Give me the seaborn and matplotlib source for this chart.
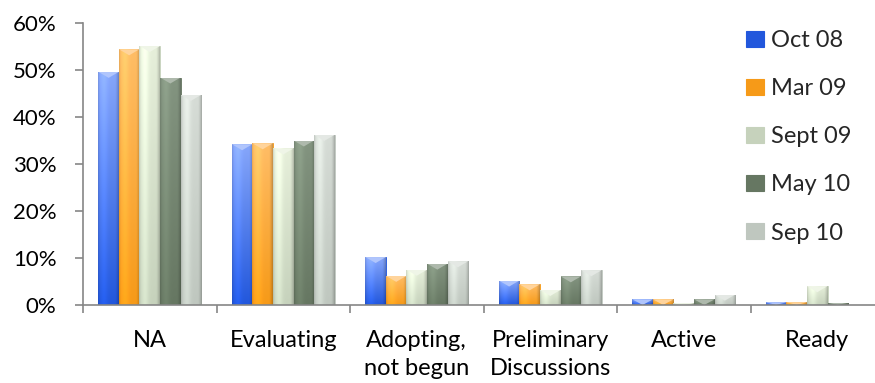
import numpy as np
import pandas as pd
import matplotlib
matplotlib.use("Agg")
import matplotlib.pyplot as plt
import matplotlib.patches as mpatches
from matplotlib.colors import to_rgb
import seaborn as sns

# Survey stage by wave (percent of respondents)
categories = ["NA", "Evaluating", "Adopting,\nnot begun", "Preliminary\nDiscussions", "Active", "Ready"]
waves = ["Oct 08", "Mar 09", "Sept 09", "May 10", "Sep 10"]
oct08 = [49.6, 34.2, 10.2, 5.2, 1.2, 0.6]
mar09 = [54.4, 34.4, 6.2, 4.4, 1.2, 0.6]
sept09 = [55.1, 33.3, 7.5, 3.2, 0.4, 4.0]
may10 = [48.4, 35.0, 8.8, 6.1, 1.2, 0.5]
sep10 = [44.7, 36.2, 9.3, 7.4, 2.2, 0.0]

series = [oct08, mar09, sept09, may10, sep10]
df = pd.DataFrame({
    "stage": np.tile(categories, len(waves)),
    "wave": np.repeat(waves, len(categories)),
    "pct": np.concatenate(series),
})

# (top colour, bottom colour) for each wave's bar shading
shades = {
    "Oct 08": ("#86a6fa", "#2257dc"),
    "Mar 09": ("#ffbd66", "#f69a18"),
    "Sept 09": ("#e6efda", "#c6d2bc"),
    "May 10": ("#839480", "#667762"),
    "Sep 10": ("#d6dcd6", "#bfc7bf"),
}
palette = {w: shades[w][1] for w in waves}

sns.set_theme(style="white")
plt.rcParams["font.family"] = ["Lato", "DejaVu Sans"]

fig = plt.figure(figsize=(8.75, 3.83), dpi=100)
ax = fig.add_axes([83 / 875, 78 / 383, 801 / 875, 282 / 383])

sns.barplot(data=df, x="stage", y="pct", hue="wave", hue_order=waves,
            order=categories, palette=palette, width=0.77, gap=0,
            saturation=1, legend=False, ax=ax, errorbar=None)


def shaded(top, bottom, ny=64, nx=32):
    t = np.linspace(0, 1, ny)[:, None, None]
    col = (1 - t) * np.array(to_rgb(top)) + t * np.array(to_rgb(bottom))
    xs = np.linspace(0, 1, nx)
    # rounded-column look: lit on the left, darker towards the right edge
    prof = 1.0 + 0.10 * np.exp(-((xs - 0.28) / 0.18) ** 2) - 0.22 * np.clip((xs - 0.82) / 0.18, 0, 1) ** 1.5 \
        - 0.10 * np.clip((0.08 - xs) / 0.08, 0, 1)
    img = col * prof[None, :, None]
    return np.clip(img, 0, 1)


def lighten(c, f):
    c = np.array(to_rgb(c))
    return tuple(c + (1 - c) * f)


ax.set_xlim(-0.5, 5.5)
ax.set_ylim(0, 60)
cap = 6 * 60 / 282  # bevel depth of 6 px in data units

for cont, w in zip(ax.containers, waves):
    top, bottom = shades[w]
    for p in cont.patches:
        x0, y0 = p.get_x(), p.get_y()
        bw, bh = p.get_width(), p.get_height()
        p.set_edgecolor(to_rgb(bottom))
        p.set_linewidth(0.6)
        if bh <= 0:
            continue
        z = p.get_zorder()
        im = ax.imshow(shaded(top, bottom), extent=[x0, x0 + bw, y0, y0 + bh],
                       origin="upper", aspect="auto", interpolation="bilinear",
                       zorder=z + 0.1)
        im.set_clip_path(p)
        # bevelled top: a lighter chevron under the upper edge
        d = min(cap, bh)
        yt = y0 + bh
        chevron = mpatches.Polygon(
            [(x0, yt), (x0 + bw, yt), (x0 + bw * 0.82, yt - d * 0.35),
             (x0 + bw * 0.5, yt - d), (x0 + bw * 0.18, yt - d * 0.35)],
            closed=True, facecolor=lighten(top, 0.35), edgecolor="none",
            zorder=z + 0.2)
        ax.add_patch(chevron)
        chevron.set_clip_path(p)

ax.set_xlim(-0.5, 5.5)
ax.set_ylim(0, 60)
ax.set_xlabel("")
ax.set_ylabel("")

axis_col = "#868686"
for s in ["top", "right"]:
    ax.spines[s].set_visible(False)
for s in ["left", "bottom"]:
    ax.spines[s].set_color(axis_col)
    ax.spines[s].set_linewidth(1.2)

ax.set_yticks(np.arange(0, 61, 10))
ax.set_yticklabels([f"{v}%" for v in range(0, 61, 10)])
ax.tick_params(axis="y", length=6, width=1.2, color=axis_col, pad=13,
               labelsize=16, labelcolor="black", left=True)

ax.set_xticks(range(len(categories)))
ax.set_xticklabels(categories, linespacing=1.4)
ax.set_xticks(np.arange(-0.5, 6.0, 1.0), minor=True)
ax.tick_params(axis="x", which="major", length=0, pad=18, labelsize=17, labelcolor="black")
ax.tick_params(axis="x", which="minor", length=6, width=1.2, color=axis_col, bottom=True)

handles = [mpatches.Patch(facecolor=shades[w][1], edgecolor=shades[w][1], linewidth=0.8, label=w)
           for w in waves]
leg = fig.legend(handles=handles, loc="upper left", bbox_to_anchor=(746 / 875, 1 - 30 / 383),
                 frameon=False, fontsize=17, handlelength=0.75, handleheight=0.65,
                 handletextpad=0.3, labelspacing=1.15, borderaxespad=0, borderpad=0)

fig.savefig("out.png", dpi=100)
